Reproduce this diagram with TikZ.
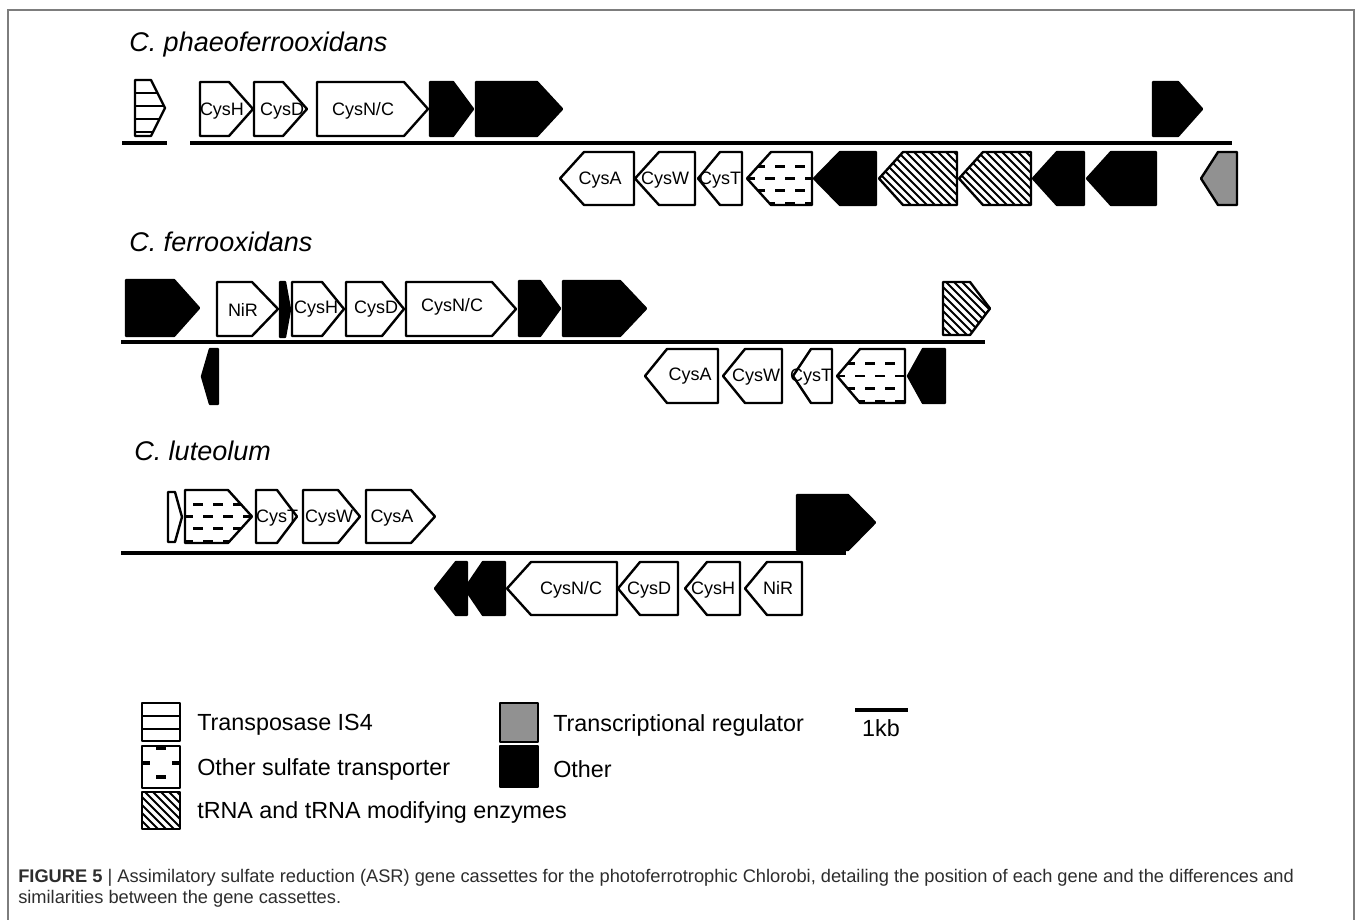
\documentclass[tikz,border=0pt]{standalone}
\usepackage{fontspec}
\setmainfont{Liberation Sans}
\definecolor{regul}{RGB}{145,145,145}
\definecolor{framegray}{RGB}{125,125,125}
\definecolor{captext}{RGB}{45,45,45}
\newcommand{\pR}[5]{(#1,#3) -- ({#2-#5},#3) -- (#2,{(#3+#4)/2}) -- ({#2-#5},#4) -- (#1,#4) -- cycle}
\newcommand{\pL}[5]{(#1,{(#3+#4)/2}) -- ({#1+#5},#3) -- (#2,#3) -- (#2,#4) -- ({#1+#5},#4) -- cycle}
\newcommand{\hatchR}[5]{%
  \fill[white] \pR{#1}{#2}{#3}{#4}{#5};
  \begin{scope}\clip \pR{#1}{#2}{#3}{#4}{#5};
    \foreach \k in {-72,-64,...,120} {\draw[hl] ({#1+\k},{#3-3}) -- ++(64,64);}
  \end{scope}
  \draw[ol] \pR{#1}{#2}{#3}{#4}{#5};}
\newcommand{\hatchL}[5]{%
  \fill[white] \pL{#1}{#2}{#3}{#4}{#5};
  \begin{scope}\clip \pL{#1}{#2}{#3}{#4}{#5};
    \foreach \k in {-72,-64,...,120} {\draw[hl] ({#1+\k},{#3-3}) -- ++(64,64);}
  \end{scope}
  \draw[ol] \pL{#1}{#2}{#3}{#4}{#5};}
\newcommand{\dashrows}[4]{%
  \foreach \f/\ph in {0.27/9pt,0.5/1.5pt,0.73/9pt,0.97/1.5pt}
    {\draw[dl, dash phase=\ph] (#1,{#3+\f*(#4-#3)}) -- (#2,{#3+\f*(#4-#3)});}}
\newcommand{\transR}[5]{%
  \fill[white] \pR{#1}{#2}{#3}{#4}{#5};
  \begin{scope}\clip \pR{#1}{#2}{#3}{#4}{#5}; \dashrows{#1}{#2}{#3}{#4}\end{scope}
  \draw[ol] \pR{#1}{#2}{#3}{#4}{#5};}
\newcommand{\transL}[5]{%
  \fill[white] \pL{#1}{#2}{#3}{#4}{#5};
  \begin{scope}\clip \pL{#1}{#2}{#3}{#4}{#5}; \dashrows{#1}{#2}{#3}{#4}\end{scope}
  \draw[ol] \pL{#1}{#2}{#3}{#4}{#5};}
\begin{document}
\begin{tikzpicture}[x=0.75pt,y=-0.75pt,
  wg/.style={draw=black, fill=white, line width=1.8pt, line join=round},
  bg/.style={draw=black, fill=black, line width=1.8pt, line join=round},
  gg/.style={draw=black, fill=regul, line width=1.8pt, line join=round},
  ol/.style={draw=black, line width=1.8pt, line join=round},
  bb/.style={line width=3pt},
  hl/.style={line width=1.35pt},
  dl/.style={line width=2.2pt, dash pattern=on 7.5pt off 7.5pt},
  lbl/.style={font=\fontsize{13.5}{15}\selectfont, inner sep=0pt, anchor=base},
  ttl/.style={font=\fontsize{20.25}{24}\selectfont\itshape, anchor=base west, inner sep=0pt},
  leg/.style={font=\fontsize{17.5}{20}\selectfont, anchor=west, inner sep=0pt}]
\useasboundingbox (0,0) rectangle (1360,920);
\fill[white] (0,0) rectangle (1360,920);
\draw[framegray, line width=1pt] (8,920) -- (8,10) -- (1354,10) -- (1354,920);

% ---------- Row 1: C. phaeoferrooxidans ----------
\node[ttl] (t1) at (129,52) {C. phaeoferrooxidans};
\draw[bb] (122,143) -- (167,143);
\draw[bb] (190,143) -- (1232,143);
% transposase
\fill[white] \pR{135}{165}{80}{136}{14};
\begin{scope}\clip \pR{135}{165}{80}{136}{14};
  \foreach \yy in {1,...,4} {\draw[line width=2pt] (130,{80+13*\yy}) -- (170,{80+13*\yy});}
\end{scope}
\draw[ol] \pR{135}{165}{80}{136}{14};
% upper
\draw[wg] \pR{200}{253}{82}{136}{24};
\draw[wg] \pR{254}{307}{82}{136}{24};
\draw[wg] \pR{317}{428}{82}{136}{24};
\draw[bg] \pR{430}{473}{82}{136}{20};
\draw[bg] \pR{476}{562}{82}{136}{25};
\draw[bg] \pR{1153}{1202}{82}{136}{24};
\node[lbl] (r1h) at (222,116) {CysH};
\node[lbl] (r1d) at (282,116) {CysD};
\node[lbl] (r1n) at (363,116) {CysN/C};
% lower
\draw[wg] \pL{560}{634}{152}{205}{24};
\draw[wg] \pL{635}{695}{152}{205}{24};
\draw[wg] \pL{698}{742}{152}{205}{22};
\transL{747}{812}{152}{205}{24}
\draw[bg] \pL{814}{876}{152}{205}{26};
\hatchL{879}{957}{152}{205}{24}
\hatchL{959}{1031}{152}{205}{24}
\draw[bg] \pL{1033}{1084}{152}{205}{24};
\draw[bg] \pL{1087}{1156}{152}{205}{24};
\draw[gg] \pL{1201}{1237}{152}{205}{17};
\node[lbl] (r1a) at (600,185) {CysA};
\node[lbl] (r1w) at (665,185) {CysW};
\node[lbl] (r1t) at (720,185) {CysT};

% ---------- Row 2: C. ferrooxidans ----------
\node[ttl] (t2) at (129,252) {C. ferrooxidans};
\draw[bb] (121,342) -- (985,342);
\draw[bg] \pR{126}{199}{280}{336}{25};
\draw[wg] \pR{217}{278}{282}{336}{26};
\draw[bg] \pR{280}{290}{282}{337}{5};
\draw[wg] \pR{292}{344}{282}{336}{22};
\draw[wg] \pR{346}{404}{282}{336}{22};
\draw[wg] \pR{406}{516}{282}{336}{24};
\draw[bg] \pR{519}{560}{281}{336}{20};
\draw[bg] \pR{563}{646}{281}{336}{26};
\hatchR{943}{990}{282}{335}{20}
\node[lbl] (r2r) at (243,316) {NiR};
\node[lbl] (r2h) at (316,313) {CysH};
\node[lbl] (r2d) at (376,313) {CysD};
\node[lbl] (r2n) at (452,311) {CysN/C};
% lower
\draw[bg] \pL{202}{218}{349}{404}{8};
\draw[wg] \pL{645}{718}{349}{403}{22};
\draw[wg] \pL{723}{782}{349}{403}{22};
\draw[wg] \pL{793}{832}{349}{403}{18};
\transL{837}{905}{349}{403}{23}
\draw[bg] \pL{908}{945}{349}{403}{15};
\node[lbl] (r2a) at (690,380) {CysA};
\node[lbl] (r2w) at (756,381) {CysW};
\node[lbl] (r2t) at (811,381) {CysT};

% ---------- Row 3: C. luteolum ----------
\node[ttl] (t3) at (134,460) {C. luteolum};
\draw[bb] (121,553) -- (846,553);
\draw[wg] \pR{168}{182}{492}{542}{7};
\transR{185}{252}{490}{543}{24}
\draw[wg] \pR{256}{297}{490}{543}{20};
\draw[wg] \pR{303}{360}{490}{543}{22};
\draw[wg] \pR{366}{435}{490}{543}{24};
\draw[bg] \pR{797}{875}{495}{550}{27};
\node[lbl] (r3t) at (277,522) {CysT};
\node[lbl] (r3w) at (329,522) {CysW};
\node[lbl] (r3a) at (392,522) {CysA};
% lower
\draw[bg] \pL{435}{467}{562}{615}{21};
\draw[bg] \pL{465}{505}{562}{615}{18};
\draw[wg] \pL{507}{617}{562}{615}{24};
\draw[wg] \pL{618}{678}{562}{615}{22};
\draw[wg] \pL{685}{740}{562}{615}{22};
\draw[wg] \pL{745}{802}{562}{615}{22};
\node[lbl] (r3n) at (571,594) {CysN/C};
\node[lbl] (r3d) at (649,594) {CysD};
\node[lbl] (r3h) at (713,594) {CysH};
\node[lbl] (r3r) at (778,594) {NiR};

% ---------- Legend ----------
\draw[ol, fill=white] (142,703) rectangle (180,741);
\draw[line width=1.8pt] (142,716) -- (180,716) (142,729) -- (180,729);
\draw[ol, fill=white] (142,746) rectangle (180,788);
\draw[line width=2.4pt] (156,748) -- (166,748);
\draw[line width=2.4pt] (142,763) -- (150,763) (172,763) -- (180,763);
\draw[line width=2.4pt] (156,777) -- (166,777);
\fill[white] (142,792) rectangle (180,829);
\begin{scope}\clip (142,792) rectangle (180,829);
  \foreach \k in {-48,-40,...,40} {\draw[hl] ({142+\k},789) -- ++(50,50);}
\end{scope}
\draw[ol] (142,792) rectangle (180,829);
\draw[ol, fill=regul] (500,703) rectangle (538,742);
\draw[ol, fill=black] (500,746) rectangle (538,787);
\node[leg] (l1) at (197,725) {Transposase IS4};
\node[leg] (l2) at (197,769) {Other sulfate transporter};
\node[leg] (l3) at (197,812) {tRNA and tRNA modifying enzymes};
\node[leg] (l4) at (553,725) {Transcriptional regulator};
\node[leg] (l5) at (553,769) {Other};
\draw[bb] (855,710) -- (908,710);
\node[leg, anchor=center] (kb) at (881,728) {1kb};

% ---------- Caption ----------
\node[anchor=base west, inner sep=0pt, font=\fontsize{13.7}{16}\selectfont, text=captext] (cap1) at (18,882)
  {\textbf{FIGURE 5} | Assimilatory sulfate reduction (ASR) gene cassettes for the photoferrotrophic Chlorobi, detailing the position of each gene and the differences and};
\node[anchor=base west, inner sep=0pt, font=\fontsize{13.7}{16}\selectfont, text=captext] (cap2) at (18,903)
  {similarities between the gene cassettes.};
\end{tikzpicture}
\end{document}
